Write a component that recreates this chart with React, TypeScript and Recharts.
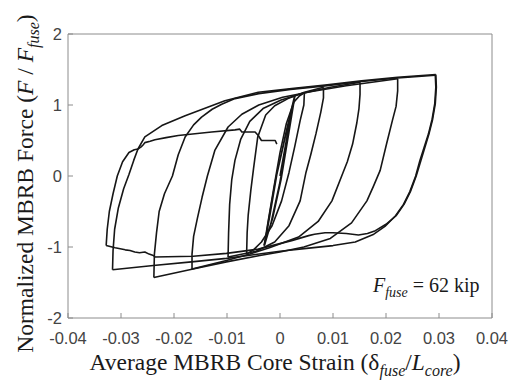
import React from 'react';
import { LineChart, Line, XAxis, YAxis, Label } from 'recharts';

type Pt = [number, number];

const xTicks = [-0.04, -0.03, -0.02, -0.01, 0, 0.01, 0.02, 0.03, 0.04];
const yTicks = [-2, -1, 0, 1, 2];

// small elastic cycles around the origin
const elastic: Pt[] = [
  [0, 0], [0.0012, 0.5], [0.0027, 1.1], [0.0016, 0.58], [0.0002, -0.05], [-0.0014, -0.6], [-0.0029, -0.96],
  [-0.0019, -0.55], [-0.0006, 0.02], [0.0012, 0.62], [0.0028, 1.12], [0.0017, 0.62], [0.0001, -0.08],
  [-0.0016, -0.64], [-0.0029, -0.97], [-0.0021, -0.6], [-0.0008, -0.04], [0.001, 0.57], [0.0027, 1.11],
  [0.0015, 0.55], [-0.0001, -0.12], [-0.0017, -0.66], [-0.003, -0.98],
];
const c1Up: Pt[] = [
  [-0.003, -0.98], [-0.0022, -0.62], [-0.0012, -0.18], [0, 0.33], [0.0012, 0.74], [0.0026, 1.04], [0.0037, 1.13], [0.0046, 1.17],
];
const t2Down: Pt[] = [
  [0.0046, 1.17], [0.0045, 1.0], [0.0038, 0.78], [0.0028, 0.42], [0.0017, 0.05], [0.0003, -0.35], [-0.0015, -0.7],
  [-0.0035, -0.93], [-0.005, -1.04], [-0.0063, -1.1],
];
const c2Up: Pt[] = [
  [-0.0063, -1.1], [-0.0062, -0.8], [-0.006, -0.55], [-0.0055, -0.2], [-0.005, 0.1], [-0.0042, 0.55], [-0.0027, 0.86],
  [-0.001, 0.99], [0.0015, 1.09], [0.0046, 1.18], [0.0082, 1.25],
];
const t3Down: Pt[] = [
  [0.0082, 1.25], [0.0082, 1.1], [0.0077, 0.9], [0.0068, 0.6], [0.0058, 0.3], [0.0049, 0.05], [0.0038, -0.35],
  [0.0017, -0.7], [-0.001, -0.93], [-0.0045, -1.06], [-0.0098, -1.14],
];
const c3Up: Pt[] = [
  [-0.0098, -1.14], [-0.0097, -0.8], [-0.0095, -0.4], [-0.0091, -0.05], [-0.0085, 0.22], [-0.0074, 0.52], [-0.0057, 0.77],
  [-0.0032, 0.95], [0.0002, 1.07], [0.0045, 1.17], [0.0095, 1.25], [0.0151, 1.32],
];
const t4Down: Pt[] = [
  [0.0151, 1.32], [0.0151, 1.15], [0.0149, 0.95], [0.0145, 0.75], [0.0137, 0.45], [0.0127, 0.2], [0.0119, 0.05],
  [0.0098, -0.35], [0.0072, -0.64], [0.0035, -0.86], [-0.002, -1.01], [-0.0057, -1.1], [-0.0101, -1.19], [-0.0166, -1.31],
];
const c4Up: Pt[] = [
  [-0.0166, -1.31], [-0.0166, -1.1], [-0.0163, -0.85], [-0.0156, -0.6], [-0.0147, -0.3], [-0.0137, 0], [-0.0123, 0.36],
  [-0.0098, 0.69], [-0.0072, 0.87], [-0.004, 1.0], [0.0005, 1.11], [0.006, 1.19], [0.0125, 1.27], [0.0222, 1.37],
];
const t5Down: Pt[] = [
  [0.0222, 1.37], [0.0222, 1.2], [0.0219, 0.98], [0.0212, 0.78], [0.0201, 0.45], [0.0189, 0.08], [0.0176, -0.15],
  [0.0164, -0.35], [0.0135, -0.66], [0.0095, -0.88], [0.0045, -1.0], [0, -1.07], [-0.0038, -1.12], [-0.0101, -1.21],
  [-0.0164, -1.31], [-0.0238, -1.43],
];
const c5Up: Pt[] = [
  [-0.0238, -1.43], [-0.0237, -1.1], [-0.0233, -0.8], [-0.0228, -0.5], [-0.0218, -0.25], [-0.0203, 0], [-0.0192, 0.3],
  [-0.0179, 0.55], [-0.0163, 0.72], [-0.0148, 0.83], [-0.0128, 0.94], [-0.011, 1.01], [-0.0085, 1.09], [-0.004, 1.16],
  [0.002, 1.22], [0.0085, 1.27], [0.0154, 1.33], [0.0222, 1.38], [0.0293, 1.42],
];
const t6Down: Pt[] = [
  [0.0293, 1.42], [0.0294, 1.25], [0.0292, 1.02], [0.0287, 0.8], [0.028, 0.59], [0.0264, 0.22], [0.0256, 0],
  [0.0245, -0.22], [0.0233, -0.4], [0.0218, -0.56], [0.0198, -0.71], [0.0177, -0.82], [0.0142, -0.93], [0.01, -0.98],
  [0.005, -1.02], [0, -1.06], [-0.005, -1.11], [-0.0101, -1.16], [-0.0167, -1.21], [-0.0239, -1.26], [-0.0316, -1.32],
];
const c6Up: Pt[] = [
  [-0.0316, -1.32], [-0.0315, -1.05], [-0.0312, -0.75], [-0.0305, -0.45], [-0.0295, -0.18], [-0.0285, 0.02],
  [-0.0276, 0.22], [-0.0268, 0.38], [-0.0255, 0.55], [-0.0223, 0.71], [-0.0179, 0.85], [-0.0129, 0.99], [-0.0104, 1.06],
  [-0.0041, 1.18], [0.0022, 1.23], [0.0085, 1.28], [0.0154, 1.34], [0.0222, 1.39], [0.0294, 1.43],
];
const t6Down2: Pt[] = [
  [0.0294, 1.43], [0.0295, 1.25], [0.0293, 1.02], [0.0288, 0.8], [0.0281, 0.59], [0.0266, 0.22], [0.0257, 0],
  [0.0246, -0.22], [0.0234, -0.4], [0.0219, -0.56], [0.02, -0.68], [0.018, -0.77], [0.0165, -0.81], [0.0148, -0.83],
  [0.0125, -0.81], [0.01, -0.8], [0.0085, -0.8], [0.0065, -0.82], [0.0054, -0.84], [0.0022, -0.91], [-0.0041, -1.03],
  [-0.0101, -1.09], [-0.0164, -1.13], [-0.0236, -1.14], [-0.0239, -1.12], [-0.0247, -1.1], [-0.0255, -1.07],
  [-0.0265, -1.08], [-0.0274, -1.07], [-0.0283, -1.05], [-0.0292, -1.04], [-0.0311, -1.01], [-0.0328, -0.98],
];
const c7Up: Pt[] = [
  [-0.0328, -0.98], [-0.0326, -0.75], [-0.0322, -0.5], [-0.0315, -0.25], [-0.0307, 0], [-0.0297, 0.2], [-0.0285, 0.33],
  [-0.0275, 0.37], [-0.0268, 0.38], [-0.0262, 0.41], [-0.0258, 0.44], [-0.0255, 0.47], [-0.0245, 0.49], [-0.0236, 0.51],
  [-0.0215, 0.54], [-0.0192, 0.57], [-0.0129, 0.62], [-0.0085, 0.65], [-0.0076, 0.66], [-0.0072, 0.62], [-0.0047, 0.62],
  [-0.0041, 0.57], [-0.0035, 0.5], [-0.0009, 0.5], [-0.0006, 0.45],
];

const branches = [elastic, c1Up, t2Down, c2Up, t3Down, c3Up, t4Down, c4Up, t5Down, c5Up, t6Down, c6Up, t6Down2, c7Up];

const toRows = (pts: Pt[]) => pts.map(([x, y]) => ({ x, y }));

const axisColor = '#8c8c8c';
const tickFont = { fill: '#444', fontSize: 16.5, fontFamily: 'Liberation Sans, Arial, sans-serif' };
const serif = 'Liberation Serif, Times New Roman, serif';

const XTitle = () => (
  <text x={275} y={370} textAnchor="middle" fontFamily={serif} fontSize={23.5} fill="#1a1a1a">
    Average MBRB Core Strain (δ
    <tspan fontStyle="italic" fontSize={16} dy={6}>fuse</tspan>
    <tspan dy={-6}>/</tspan>
    <tspan fontStyle="italic">L</tspan>
    <tspan fontStyle="italic" fontSize={16} dy={6}>core</tspan>
    <tspan dy={-6}>)</tspan>
  </text>
);

const YTitle = () => (
  <text x={0} y={0} transform="translate(33,183.5) rotate(-90)" textAnchor="middle" fontFamily={serif} fontSize={23.5} fill="#1a1a1a">
    Normalized MBRB Force (
    <tspan fontStyle="italic">F</tspan> / <tspan fontStyle="italic">F</tspan>
    <tspan fontStyle="italic" fontSize={16} dy={6}>fuse</tspan>
    <tspan dy={-6}>)</tspan>
  </text>
);

export default function App() {
  return (
    <div style={{ position: 'absolute', left: 0, top: 0, width: 511, height: 383, background: '#fff' }}>
      <LineChart width={511} height={383} margin={{ top: 30, right: 15, bottom: 35, left: 38 }}>
        <XAxis
          type="number"
          dataKey="x"
          domain={[-0.04, 0.04]}
          ticks={xTicks}
          interval={0}
          height={30}
          tickSize={-5}
          tickMargin={19}
          stroke={axisColor}
          tick={tickFont}
          tickFormatter={(v: number) => String(v)}
          allowDataOverflow
        >
          <Label content={() => <XTitle />} />
        </XAxis>
        <XAxis
          xAxisId="top"
          orientation="top"
          type="number"
          dataKey="x"
          domain={[-0.04, 0.04]}
          ticks={xTicks}
          interval={0}
          height={4}
          tickSize={-5}
          tick={false}
          stroke={axisColor}
          allowDataOverflow
        />
        <YAxis
          type="number"
          dataKey="y"
          domain={[-2, 2]}
          ticks={yTicks}
          interval={0}
          width={30}
          tickSize={-5}
          tickMargin={11}
          stroke={axisColor}
          tick={tickFont}
          allowDataOverflow
        >
          <Label content={() => <YTitle />} />
        </YAxis>
        <YAxis
          yAxisId="right"
          orientation="right"
          type="number"
          dataKey="y"
          domain={[-2, 2]}
          ticks={yTicks}
          interval={0}
          width={4}
          tickSize={-5}
          tick={false}
          stroke={axisColor}
          allowDataOverflow
        />
        {branches.map((b, i) => (
          <Line
            key={i}
            data={toRows(b)}
            dataKey="y"
            type="linear"
            dot={false}
            stroke="#161616"
            strokeWidth={1.6}
            strokeLinejoin="round"
            isAnimationActive={false}
          />
        ))}
      </LineChart>
      <svg width={511} height={383} style={{ position: 'absolute', left: 0, top: 0, pointerEvents: 'none' }}>
        <text x={373} y={292} fontFamily={serif} fontSize={20} fill="#1a1a1a">
          <tspan fontStyle="italic">F</tspan>
          <tspan fontStyle="italic" fontSize={14} dy={5}>fuse</tspan>
          <tspan dy={-5}> = 62 kip</tspan>
        </text>
      </svg>
    </div>
  );
}
